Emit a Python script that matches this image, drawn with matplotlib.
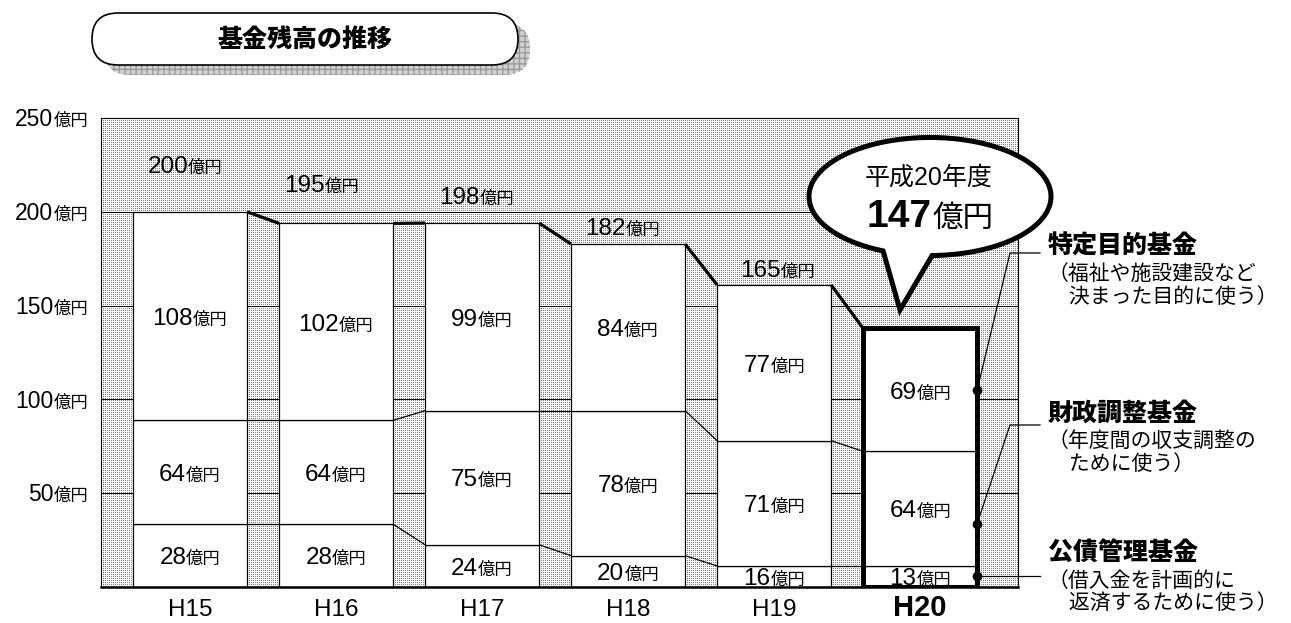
import matplotlib
matplotlib.use('Agg')
import matplotlib.pyplot as plt
import numpy as np
from matplotlib.patches import FancyBboxPatch, Polygon

plt.rcParams['font.family'] = ['Liberation Sans', 'Noto Sans CJK JP', 'DejaVu Sans']

# ---------------- data ----------------
years = ['H15', 'H16', 'H17', 'H18', 'H19', 'H20']
kosai_labels = [28, 28, 24, 20, 16, 13]          # 公債管理基金
zaisei_labels = [64, 64, 75, 78, 71, 64]         # 財政調整基金
tokutei_labels = [108, 102, 99, 84, 77, 69]      # 特定目的基金
total_labels = [200, 195, 198, 182, 165, 147]
# segment heights as drawn in the picture (億円)
kosai_h = [33.5, 33.5, 22.5, 16.7, 11.2, 11.2]
zaisei_h = [55.3, 55.3, 71.5, 77.3, 66.8, 61.1]
tokutei_h = [111.2, 105.0, 100.0, 88.8, 83.0, 65.5]
yticks = [50, 100, 150, 200, 250]
unit = '億円'
title = '基金残高の推移'
bubble_lines = ['平成20年度', '147']
fund_names = ['特定目的基金', '財政調整基金', '公債管理基金']
fund_notes = [['（福祉や施設建設など', '\u3000決まった目的に使う）'],
              ['（年度間の収支調整の', '\u3000ために使う）'],
              ['（借入金を計画的に', '\u3000返済するために使う）']]

# ---------------- layout ----------------
W, H = 1291, 623
fig = plt.figure(figsize=(W / 100, H / 100), dpi=100)
ax = fig.add_axes([101 / W, 1 - 587 / H, 917 / W, 469 / H])
x = np.arange(len(years))
bw = 0.781
ax.set_xlim(-0.61, 5.67)
ax.set_ylim(0, 250)
ax.patch.set_visible(False)

# dotted background texture (pixel exact)
bb = ax.get_window_extent()
x0, y0 = int(round(bb.x0)), int(round(bb.y0))
w, h = int(round(bb.width)), int(round(bb.height))
rr, cc = np.mgrid[0:h, 0:w]
dark = (rr % 2 == 0) & (cc % 2 == 0)
img = np.ones((h, w, 3))
img[dark] = 0.5
fig.figimage(img, xo=x0, yo=y0, zorder=-10)

for v in yticks:
    ax.axhline(v, color='black', lw=0.7, zorder=1)

b1 = np.array(kosai_h)
b2 = b1 + np.array(zaisei_h)
b3 = b2 + np.array(tokutei_h)
for hts, bots in [(kosai_h, 0), (zaisei_h, b1), (tokutei_h, b2)]:
    ax.bar(x, hts, width=bw, bottom=bots, color='white', edgecolor='black',
           lw=0.9, zorder=2)
ax.bar(x[-1], b3[-1], width=bw, fill=False, edgecolor='black', lw=3.6, zorder=4)

for i in range(len(x) - 1):
    xa, xb = x[i] + bw / 2, x[i + 1] - bw / 2
    for lev, lw in [(b1, 0.9), (b2, 0.9), (b3, 2.3)]:
        ax.plot([xa, xb], [lev[i], lev[i + 1]], color='black', lw=lw, zorder=3,
                solid_capstyle='butt')

for s in ['left', 'top', 'right']:
    ax.spines[s].set_linewidth(0.8)
ax.spines['bottom'].set_linewidth(1.8)
ax.set_yticks([])
ax.set_xticks(x)
ax.set_xticklabels([])
ax.tick_params(axis='x', length=0)

# ---------------- overlay in pixel coordinates ----------------
ov = fig.add_axes([0, 0, 1, 1])
ov.set_xlim(0, W)
ov.set_ylim(H, 0)
ov.axis('off')
ov.patch.set_visible(False)
renderer = fig.canvas.get_renderer()


def d2p(xd, yd):
    px, py = ax.transData.transform((xd, yd))
    return px, H - py


def mixed(xp, yc, parts, ha='center'):
    arts = []
    for s, size, weight in parts:
        t = ov.text(0, 0, s, fontsize=size, fontweight=weight, ha='left',
                    va='baseline', zorder=6)
        arts.append((t, t.get_window_extent(renderer).width))
    total = sum(wd for _, wd in arts)
    start = {'center': xp - total / 2, 'right': xp - total, 'left': xp}[ha]
    base = yc + 0.358 * parts[0][1] * 100 / 72
    for t, wd in arts:
        t.set_position((start, base))
        start += wd


NUM, SUF = 17.5, 12.5

# x category labels
for i, yr in enumerate(years):
    px, _ = d2p(x[i], 0)
    last = i == len(years) - 1
    ov.text(px, 616, yr, fontsize=21 if last else 17.5,
            fontweight='heavy' if last else 'normal', ha='center', va='baseline')

# y tick labels
for v in yticks:
    _, py = d2p(0, v)
    mixed(88, py, [(str(v), 16.5, 'normal'), (unit, SUF, 'normal')], ha='right')

# values inside bars
for i in range(len(x)):
    for val, bot, hh in [(kosai_labels[i], 0, kosai_h[i]),
                         (zaisei_labels[i], b1[i], zaisei_h[i]),
                         (tokutei_labels[i], b2[i], tokutei_h[i])]:
        px, py = d2p(x[i], bot + hh / 2)
        mixed(px, py, [(str(val), NUM, 'normal'), (unit, SUF, 'normal')])

# totals above bars
tot_dx = [-5, -14, -5, -5, 4]
tot_up = [48, 40, 28, 18, 17]
for i in range(len(x) - 1):
    px, py = d2p(x[i], b3[i])
    mixed(px + tot_dx[i], py - tot_up[i], [(str(total_labels[i]), NUM, 'normal'),
                                           (unit, SUF, 'normal')])

# title banner
ov.add_patch(FancyBboxPatch((104, 23), 426, 52, boxstyle='round,pad=0,rounding_size=26',
                            facecolor='#d2d2d2', edgecolor='#9a9a9a', hatch='+++', lw=0,
                            zorder=2))
ov.add_patch(FancyBboxPatch((92, 13), 426, 52, boxstyle='round,pad=0,rounding_size=26',
                            facecolor='white', edgecolor='black', lw=1.2, zorder=3))
ov.text(305, 40, title, fontsize=18, fontweight='heavy', ha='center', va='center',
        zorder=4)

# speech bubble
cx, cy, a, b = 930, 196.5, 121, 59
tt = np.deg2rad(np.linspace(89, 112.8 - 360, 240))
pts = np.column_stack([cx + a * np.cos(tt), cy + b * np.sin(tt)])
pts = np.vstack([pts, [900, 310]])
ov.add_patch(Polygon(pts, closed=True, facecolor='white', edgecolor='black', lw=3.6,
                     joinstyle='miter', zorder=5))
ov.text(929, 178, bubble_lines[0], fontsize=18, ha='center', va='center', zorder=6)
mixed(930, 213, [(bubble_lines[1], 28, 'bold'), (unit, 22, 'normal')])

# fund legend with leader lines
anchors = [(b2[-1], tokutei_h[-1], 0.5), (b1[-1], zaisei_h[-1], 0.37), (0, kosai_h[-1], 0.5)]
leader_y = [253, 425, None]
title_y = [247, 414, 554]
for k in range(3):
    bot, hh, fr = anchors[k]
    dx, dy = d2p(x[-1] + bw / 2, bot + fr * hh)
    ly = dy if leader_y[k] is None else leader_y[k]
    ov.plot([dx, 1010, 1040], [dy, ly, ly], color='black', lw=0.9, zorder=5)
    ov.plot([dx], [dy], 'o', color='black', ms=6, zorder=6)
    ov.text(1048, title_y[k], fund_names[k], fontsize=18, fontweight='heavy',
            ha='left', va='center', zorder=6)
    for j, line in enumerate(fund_notes[k]):
        ov.text(1048, title_y[k] + 27 + 23 * j, line, fontsize=15, ha='left',
                va='center', zorder=6)

fig.savefig('out.png', dpi=100)
